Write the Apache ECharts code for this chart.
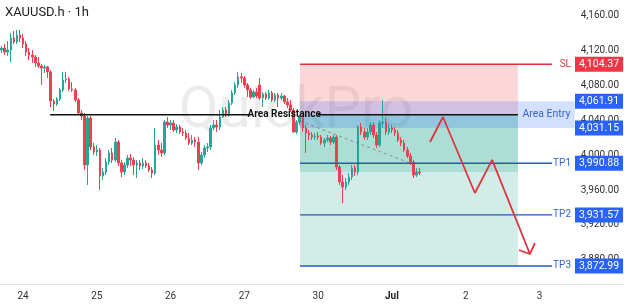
<!DOCTYPE html>
<html><head><meta charset="utf-8">
<script src="https://cdn.jsdelivr.net/npm/echarts@6/dist/echarts.min.js"></script>
<style>html,body{margin:0;padding:0;background:#fff}#c{width:624px;height:305px}</style>
</head><body><div id="c"></div>
<script>
// hourly candles: [open, close, low, high]
const candles = [
[4120.7,4123.0,4117.3,4125.3],[4123.0,4118.4,4115.0,4127.6],[4118.4,4120.7,4113.9,4131.1],[4120.7,4134.5,4107.0,4140.3],
[4134.5,4129.9,4127.6,4142.5],[4129.9,4137.9,4127.6,4143.7],[4137.9,4134.5,4129.9,4143.7],[4134.5,4127.6,4123.0,4139.1],
[4127.6,4118.4,4113.9,4131.1],[4118.4,4115.0,4109.3,4123.0],[4115.0,4112.7,4105.8,4120.7],[4112.7,4105.8,4101.2,4115.0],
[4105.8,4102.4,4100.1,4112.7],[4102.4,4100.1,4080.6,4104.7],[4100.1,4101.2,4094.4,4103.5],[4101.2,4095.5,4088.6,4102.4],
[4095.5,4062.2,4055.3,4097.8],[4062.2,4058.8,4050.8,4064.5],[4058.8,4064.5,4056.5,4066.8],[4064.5,4074.9,4062.2,4077.2],
[4074.9,4086.3,4072.6,4095.5],[4086.3,4087.5,4082.9,4095.5],[4087.5,4076.0,4073.7,4089.8],[4076.0,4074.9,4072.6,4084.0],
[4074.9,4063.4,4061.1,4077.2],[4063.4,4048.5,4046.2,4065.7],[4048.5,4045.0,4040.4,4051.9],[4045.0,3988.8,3983.1,4048.5],
[3988.8,4042.7,3965.9,4045.0],[4042.7,4009.5,4006.0,4045.0],[4009.5,4003.7,4000.3,4014.0],[4003.7,4006.0,3999.1,4011.7],
[4006.0,3976.2,3960.1,4008.3],[3976.2,3980.8,3971.6,3985.4],[3980.8,3992.2,3977.3,3996.8],[3992.2,4002.6,3988.8,4006.0],
[4002.6,3994.5,3991.1,4008.3],[3994.5,4015.2,3992.2,4019.8],[4015.2,3991.1,3987.7,4017.5],[3991.1,3980.8,3975.0,3994.5],
[3980.8,3988.8,3977.3,3992.2],[3988.8,3996.8,3985.4,4000.3],[3996.8,3994.5,3987.7,4001.4],[3994.5,3988.8,3977.3,3998.0],
[3988.8,3991.1,3973.9,3994.5],[3991.1,3987.7,3983.1,3994.5],[3987.7,3991.1,3984.2,3996.8],[3991.1,3987.7,3985.4,3994.5],
[3987.7,3983.1,3980.8,3991.1],[3983.1,3979.6,3973.9,3986.5],[3979.6,4011.7,3977.3,4031.3],[4011.7,4006.0,4000.3,4017.5],
[4006.0,4002.6,3998.0,4014.0],[4002.6,4038.1,4000.3,4040.4],[4038.1,4034.7,4031.3,4043.9],[4034.7,4037.0,4029.0,4040.4],
[4037.0,4029.0,4026.7,4040.4],[4029.0,4032.4,4025.5,4035.8],[4032.4,4026.7,4024.4,4034.7],[4026.7,4025.5,4022.1,4031.3],
[4025.5,4019.8,4017.5,4029.0],[4019.8,4014.0,4011.7,4025.5],[4014.0,4017.5,4011.7,4023.2],[4017.5,4015.2,4009.5,4020.9],
[4015.2,3991.1,3983.1,4020.9],[3991.1,4000.3,3988.8,4003.7],[4000.3,4008.3,3996.8,4011.7],[4008.3,4009.5,4003.7,4014.0],
[4009.5,4031.3,4006.0,4034.7],[4031.3,4034.7,4029.0,4040.4],[4034.7,4032.4,4026.7,4040.4],[4032.4,4043.9,4029.0,4051.9],
[4043.9,4051.9,4042.7,4055.3],[4051.9,4046.2,4043.9,4055.3],[4046.2,4059.9,4043.9,4063.4],[4059.9,4071.4,4057.6,4074.9],
[4071.4,4080.6,4069.1,4084.0],[4080.6,4089.8,4077.2,4095.5],[4089.8,4088.6,4082.9,4094.4],[4088.6,4080.6,4077.2,4090.9],
[4080.6,4074.9,4066.8,4082.9],[4074.9,4066.8,4064.5,4077.2],[4066.8,4072.6,4065.7,4074.9],[4072.6,4068.0,4065.7,4077.2],
[4080.6,4065.7,4063.4,4088.6],[4065.7,4070.3,4055.3,4072.6],[4070.3,4065.7,4063.4,4072.6],[4065.7,4071.4,4063.4,4074.9],
[4071.4,4063.4,4061.1,4073.7],[4063.4,4069.1,4061.1,4071.4],[4069.1,4065.7,4055.3,4071.4],[4065.7,4068.0,4063.4,4071.4],
[4068.0,4061.1,4058.8,4069.1],[4061.1,4057.6,4054.2,4065.7],[4057.6,4051.9,4049.6,4063.4],[4051.9,4026.7,4025.5,4054.2],
[4026.7,4038.1,4024.4,4040.4],[4038.1,4043.9,4034.7,4046.2],[4043.9,4031.3,4026.7,4046.2],[4031.3,4025.5,4002.6,4034.7],
[4025.5,4023.2,4017.5,4029.0],[4023.2,4020.9,4017.5,4026.7],[4020.9,4022.1,4017.5,4025.5],[4022.1,4020.9,4017.5,4026.7],
[4020.9,4014.0,4011.7,4023.2],[4014.0,4017.5,4009.5,4019.8],[4017.5,4019.8,4015.2,4023.2],[4019.8,4015.2,4011.7,4022.1],
[4015.2,4020.9,4012.9,4023.2],[4020.9,3986.5,3983.1,4023.2],[3986.5,3969.3,3965.9,3988.8],[3969.3,3963.6,3945.2,3977.3],
[3963.6,3969.3,3960.1,3973.9],[3969.3,3975.0,3965.9,3979.6],[3975.0,3985.4,3971.6,3988.8],[3985.4,3980.8,3976.2,3988.8],
[3980.8,4032.4,3977.3,4034.7],[4032.4,4026.7,4023.2,4037.0],[4026.7,4020.9,4017.5,4031.3],[4020.9,4026.7,4017.5,4031.3],
[4026.7,4034.7,4023.2,4038.1],[4034.7,4023.2,4019.8,4038.1],[4023.2,4011.7,4008.3,4026.7],[4011.7,4037.0,4009.5,4040.4],
[4037.0,4038.1,4031.3,4063.4],[4038.1,4026.7,4023.2,4042.7],[4026.7,4031.3,4023.2,4035.8],[4031.3,4029.0,4025.5,4034.7],
[4029.0,4025.5,4022.1,4032.4],[4025.5,4017.5,4015.2,4029.0],[4017.5,4014.0,4010.6,4020.9],[4014.0,4006.0,4003.7,4017.5],
[4006.0,3999.1,3996.8,4009.5],[3999.1,3992.2,3988.8,4002.6],[3992.2,3977.3,3973.9,3994.5],[3977.3,3980.8,3975.0,3985.4],
[3980.8,3979.6,3977.3,3985.4]
];
const dayLabels = ['24','25','26','27','30','Jul','2','3'];
const daySlots = [7,31,55,79,103,127,151,175];   // hour slot where each day starts
const slotCount = 203;
const yTicks = [3880,3920,3960,4000,4040,4080,4120,4160];
const yMin = 3852.3, yMax = 4178.1;
const slPrice = 4104.37;
const entryHigh = 4061.91, entryLow = 4031.15, entryPrice = 4046.53;
const tp1 = 3990.88, tp2 = 3931.57, tp3 = 3872.99;
const tp1ZoneLow = 3980.8;
const zoneStart = 97.6, zoneEnd = 168.5, entryBandEnd = 187.0, levelEnd = 179.6;
const resistanceStart = 16.3, resistanceGapFrom = 81.5, resistanceGapTo = 103.4;
const trendX = [97.6, 135.0], trendY = [4039.3, 3988.8];
const pathX = [139.9, 144.1, 154.5, 160.1, 172.4];
const pathY = [4015.2, 4043.9, 3956.7, 3994.6, 3886.7];
const arrowX = [168.8, 172.4, 174.0], arrowY = [3891.3, 3886.7, 3899.3];

const categories = [];
for (let i = 0; i < slotCount; i++) categories.push('h' + i);

const pairs = (xs, ys) => xs.map((x, i) => [x, ys[i]]);
const hline = (x1, x2, y) => [[x1, y], [x2, y]];

const zones = [
  {r: [zoneStart, slPrice, zoneEnd, entryPrice], c: 'rgba(242,54,69,0.2)'},
  {r: [zoneStart, entryPrice, zoneEnd, tp3], c: 'rgba(8,153,129,0.18)'},
  {r: [zoneStart, entryPrice, zoneEnd, tp1ZoneLow], c: 'rgba(8,153,129,0.18)'},
  {r: [zoneStart, entryHigh, entryBandEnd, entryLow], c: 'rgba(41,98,255,0.2)'}
];

function lineSeries(data, color, width, extra) {
  return Object.assign({
    type: 'line', xAxisIndex: 1, yAxisIndex: 0, data: data, symbol: 'none',
    silent: true, z: 4, animation: false,
    lineStyle: {color: color, width: width}
  }, extra || {});
}

const chart = echarts.init(document.getElementById('c'), null, {renderer: 'canvas'});
chart.setOption({
  animation: false,
  grid: {left: 0, right: 0, top: 0, bottom: 21},
  xAxis: [
    {type: 'category', data: categories, boundaryGap: true,
     axisLine: {lineStyle: {color: '#e3e5ea'}}, axisTick: {show: false}, splitLine: {show: false},
     axisLabel: {
       interval: (i) => daySlots.indexOf(i) >= 0,
       formatter: (v, i) => { const k = daySlots.indexOf(i); if (k < 0) return ''; return dayLabels[k] === 'Jul' ? '{b|Jul}' : dayLabels[k]; },
       color: '#333', fontSize: 10, fontFamily: 'Roboto', margin: 7,
       rich: {b: {fontWeight: 'bold', fontSize: 10, color: '#222', fontFamily: 'Roboto'}}
     }},
    {type: 'value', min: 0, max: slotCount, show: false}
  ],
  yAxis: [{
    type: 'value', position: 'right', min: yMin, max: yMax, scale: true,
    axisLine: {show: false}, axisTick: {show: false}, splitLine: {show: false},
    axisLabel: {inside: true, margin: 5, customValues: yTicks, color: '#333', fontSize: 10, fontFamily: 'Roboto',
      formatter: (v) => v.toLocaleString('en-US', {minimumFractionDigits: 2, maximumFractionDigits: 2})}
  }],
  series: [
    {type: 'custom', xAxisIndex: 1, yAxisIndex: 0, z: 1, silent: true,
     data: zones.map(z => z.r),
     renderItem: (params, api) => {
       const p1 = api.coord([api.value(0), api.value(1)]);
       const p2 = api.coord([api.value(2), api.value(3)]);
       return {type: 'rect', shape: {x: p1[0], y: p1[1], width: p2[0] - p1[0], height: p2[1] - p1[1]},
               style: {fill: zones[params.dataIndex].c}};
     }},
    {type: 'candlestick', xAxisIndex: 0, yAxisIndex: 0, data: candles, barWidth: 2, z: 3, silent: true,
     itemStyle: {color: '#26a69a', color0: '#ef4050', borderColor: '#26a69a', borderColor0: '#ef4050', borderWidth: 1}},
    lineSeries(hline(resistanceStart, resistanceGapFrom, entryPrice), '#111', 1.6),
    lineSeries(hline(resistanceGapTo, zoneEnd, entryPrice), '#111', 1.6),
    lineSeries(hline(zoneStart, levelEnd, slPrice), '#e0303e', 1.4),
    lineSeries(hline(zoneStart, levelEnd, tp1), '#2457c9', 1.4),
    lineSeries(hline(zoneStart, levelEnd, tp2), '#2457c9', 1.4),
    lineSeries(hline(zoneStart, levelEnd, tp3), '#2457c9', 1.4),
    lineSeries(pairs(trendX, trendY), 'rgba(110,110,110,0.7)', 1, {lineStyle: {color: 'rgba(110,110,110,0.7)', width: 1, type: [3, 3]}}),
    lineSeries(pairs(pathX, pathY), '#e0343f', 1.8),
    lineSeries(pairs(arrowX, arrowY), '#e0343f', 1.8)
  ]
});

const yPx = v => chart.convertToPixel({yAxisIndex: 0}, v);
const xPx = v => chart.convertToPixel({xAxisIndex: 1}, v);
const fmt = v => v.toLocaleString('en-US', {minimumFractionDigits: 2, maximumFractionDigits: 2});
const g = [];
g.push({type: 'text', x: 5, y: 13, z: 50, style: {text: 'XAUUSD.h · 1h', fill: '#222', font: '13px Roboto', verticalAlign: 'middle'}});
g.push({type: 'text', x: 296, y: 112, z: 0, style: {text: 'QuickPro', fill: 'rgba(0,0,0,0.075)', font: '58px Roboto', align: 'center', verticalAlign: 'middle'}});
// Area Resistance label
g.push({type: 'text', x: (xPx(resistanceGapFrom) + xPx(resistanceGapTo)) / 2, y: yPx(entryPrice), z: 60,
        style: {text: 'Area Resistance', fill: '#111', font: 'bold 10px Roboto', align: 'center', verticalAlign: 'middle'}});
// Area Entry label
g.push({type: 'text', x: (xPx(zoneEnd) + xPx(entryBandEnd)) / 2, y: (yPx(entryHigh) + yPx(entryLow)) / 2, z: 60,
        style: {text: 'Area Entry', fill: '#3a63cf', font: '10.5px Roboto', align: 'center', verticalAlign: 'middle'}});
const badges = [
  {v: slPrice, tag: 'SL', c: '#f23645'},
  {v: entryHigh, tag: '', c: '#2962ff'},
  {v: entryLow, tag: '', c: '#2962ff'},
  {v: tp1, tag: 'TP1', c: '#2962ff'},
  {v: tp2, tag: 'TP2', c: '#2962ff'},
  {v: tp3, tag: 'TP3', c: '#2962ff'}
];
badges.forEach(b => {
  const y = yPx(b.v);
  g.push({type: 'rect', z: 70, shape: {x: 575, y: y - 7.5, width: 48, height: 15}, style: {fill: b.c}});
  g.push({type: 'text', x: 599, y: y, z: 71, style: {text: fmt(b.v), fill: '#fff', font: '10.5px Roboto', align: 'center', verticalAlign: 'middle'}});
  if (b.tag) g.push({type: 'text', x: 571, y: y, z: 71, style: {text: b.tag, fill: b.tag === 'SL' ? '#e0303e' : '#3a63cf', font: '10px Roboto', align: 'right', verticalAlign: 'middle'}});
});
chart.setOption({graphic: g});
</script>
</body></html>
